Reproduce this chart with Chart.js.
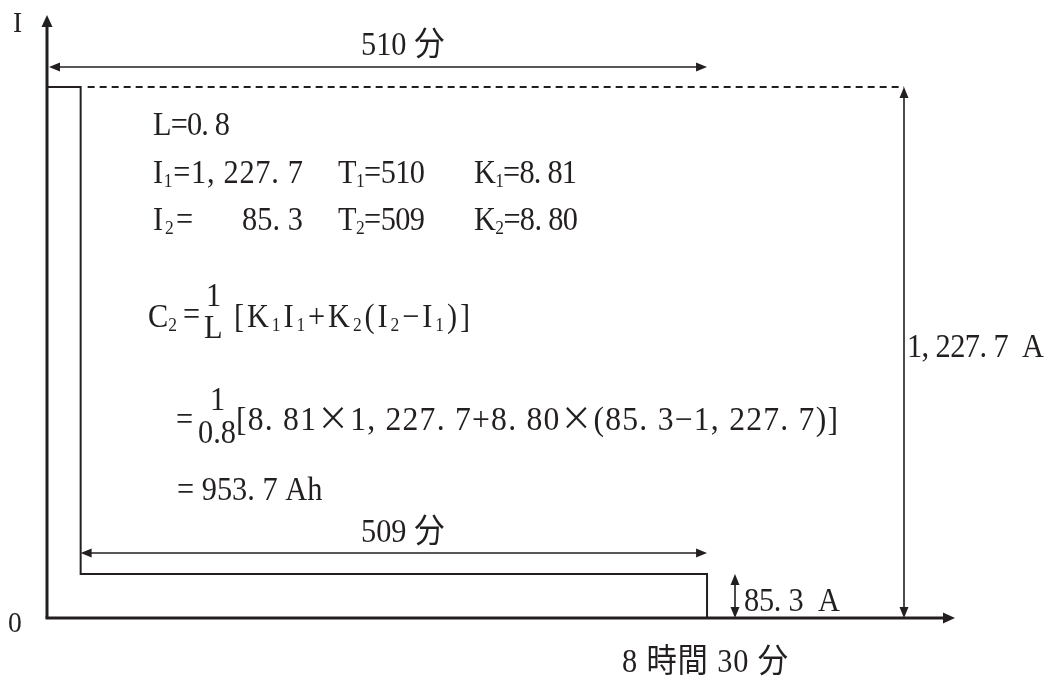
<!DOCTYPE html>
<html>
<head>
<meta charset="utf-8">
<script src="https://cdn.jsdelivr.net/npm/chart.js@4/dist/chart.umd.min.js"></script>
<style>
  html,body{margin:0;padding:0;background:#fff;}
  #wrap{width:1054px;height:678px;}
</style>
</head>
<body>
<div id="wrap"><canvas id="c" width="1054" height="678"></canvas></div>
<script>
// ---- data ----
const stepTimes   = [0, 26, 510];        // minutes, as drawn (first step is schematic)
const currents    = [1227.7, 85.3];       // I1, I2 (A)
const periods     = [510, 509];           // T1, T2 (min)
const kFactors    = [8.81, 8.80];         // K1, K2
const lossFactor  = [0.8];                // L
const capacity    = [953.7];              // C2 (Ah)
const axisLabels  = ['I', '0'];

const Y_MIN = -17.9, Y_MAX = 1396.6, X_MAX = 701.6;
const INK = '#231f20';

function jp(n, dec){
  const s = n.toLocaleString('en-US',{minimumFractionDigits:dec, maximumFractionDigits:dec});
  return s.replace(/,/g, ', ').replace('.', '. ');
}

function fontFor(size, c){
  if (c === '\u00d7') return size + 'px "Noto Sans CJK JP",sans-serif';
  return size + 'px "Liberation Serif","Noto Sans CJK JP",serif';
}
function parseRich(s){
  const out=[];
  for(let i=0;i<s.length;i++){
    if(s[i]==='_'){ out.push({c:s[i+1],sub:true}); i++; }
    else out.push({c:s[i],sub:false});
  }
  return out;
}
function drawRich(ctx, t){
  const size = t.size || 33, subSize = Math.round(size*0.58), sx = t.sx || 0.92;
  const chars = parseRich(t.text);
  const widths = chars.map(ch => { ctx.font = fontFor(ch.sub?subSize:size, ch.c); return ctx.measureText(ch.c).width; });
  const natural = widths.reduce((a,b)=>a+b,0)*sx;
  let extra = 0;
  if (t.w) extra = (t.w - natural)/Math.max(1, chars.length-1);
  let xx = t.x;
  chars.forEach((ch,i)=>{
    ctx.save();
    ctx.font = fontFor(ch.sub?subSize:size, ch.c);
    ctx.translate(xx, t.y + (ch.sub?4:0));
    ctx.scale(sx,1);
    ctx.fillStyle = INK;
    ctx.textBaseline = 'alphabetic';
    ctx.fillText(ch.c, 0, 0);
    ctx.restore();
    xx += widths[i]*sx + extra;
  });
}
function head(ctx, tx, ty, dx, dy, len, hw){
  const px = -dy, py = dx;
  ctx.beginPath();
  ctx.moveTo(tx, ty);
  ctx.lineTo(tx - dx*len + px*hw, ty - dy*len + py*hw);
  ctx.lineTo(tx - dx*len - px*hw, ty - dy*len - py*hw);
  ctx.closePath();
  ctx.fill();
}
function line(ctx, x1,y1,x2,y2,w,dash){
  ctx.save(); ctx.lineWidth=w; ctx.setLineDash(dash||[]);
  ctx.beginPath(); ctx.moveTo(x1,y1); ctx.lineTo(x2,y2); ctx.stroke(); ctx.restore();
}
function dimH(ctx, x1, x2, y){ line(ctx,x1+6,y,x2-6,y,1.6); head(ctx,x1,y,-1,0,11,4.5); head(ctx,x2,y,1,0,11,4.5); }
function dimV(ctx, x, y1, y2){ line(ctx,x,y1+6,x,y2-6,1.6); head(ctx,x,y1,0,-1,11,4.5); head(ctx,x,y2,0,1,11,4.5); }

const diagram = {
  id:'diagram',
  afterDatasetsDraw(chart){
    const {ctx, chartArea:a, scales:{x,y}} = chart;
    ctx.save();
    ctx.strokeStyle = INK; ctx.fillStyle = INK;
    const x0 = x.getPixelForValue(0), xs = x.getPixelForValue(stepTimes[1]), xe = x.getPixelForValue(stepTimes[2]);
    const yT = y.getPixelForValue(currents[0]), yL = y.getPixelForValue(currents[1]), yB = a.bottom;
    // axes
    line(ctx, x0, yB, x0, a.top+10, 3);
    head(ctx, x0, a.top, 0, -1, 12, 5.5);
    line(ctx, x0-1.5, yB, a.right-10, yB, 3);
    head(ctx, a.right, yB, 1, 0, 12, 5.5);
    // dimension arrows
    dimH(ctx, x0+2, xe, 67);
    dimH(ctx, xs, xe, 553);
    line(ctx, xs+7, yT, 904, yT, 2, [7,5]);
    dimV(ctx, 904, yT, yB);
    dimV(ctx, 735, yL, yB);
    // texts
    const h = Math.floor(periods[0]/60), m = periods[0]%60;
    const texts = [
      {text:axisLabels[0], x:13, y:32, size:30},
      {text:axisLabels[1], x:8, y:632, size:30},
      {text:periods[0]+' 分', x:361, y:55},
      {text:periods[1]+' 分', x:361, y:542},
      {text:'L='+jp(lossFactor[0],1), x:153, y:135, w:77},
      {text:'I_1='+jp(currents[0],1), x:153, y:183, w:150},
      {text:'T_1='+periods[0], x:338, y:183, w:87},
      {text:'K_1='+jp(kFactors[0],2), x:474, y:183, w:103},
      {text:'I_2=', x:153, y:230, w:40},
      {text:jp(currents[1],1), x:242, y:230, w:61},
      {text:'T_2='+periods[1], x:338, y:230, w:87},
      {text:'K_2='+jp(kFactors[1],2), x:474, y:230, w:104},
      {text:'C_2', x:148, y:327},
      {text:'=', x:183, y:325},
      {text:'1', x:206, y:306},
      {text:'L', x:204, y:338},
      {text:'[K_1I_1+K_2(I_2\u2212I_1)]', x:234, y:327, w:236},
      {text:'=', x:176, y:430},
      {text:'1', x:210, y:410},
      {text:'0.8', x:198, y:443},
      {text:'['+jp(kFactors[0],2)+'\u00d7'+jp(currents[0],1)+'+'+jp(kFactors[1],2)+'\u00d7('+jp(currents[1],1)+'\u2212'+jp(currents[0],1)+')]', x:236, y:430, w:602, sx:0.96},
      {text:'= '+jp(capacity[0],1)+' Ah', x:177, y:500},
      {text:jp(currents[0],1)+'  A', x:907, y:357, w:137},
      {text:jp(currents[1],1)+'  A', x:744, y:611, w:96},
      {text:h+' 時間 '+m+' 分', x:622, y:672, w:166},
    ];
    texts.forEach(t=>drawRich(ctx,t));
    ctx.restore();
  }
};

new Chart(document.getElementById('c'), {
  type:'line',
  data:{
    datasets:[{
      data:[
        {x:stepTimes[0], y:currents[0]},
        {x:stepTimes[1], y:currents[1]},
        {x:stepTimes[2], y:Y_MIN}
      ],
      stepped:true,
      borderColor:INK,
      borderWidth:2,
      pointRadius:0,
      fill:false
    }]
  },
  options:{
    responsive:false,
    devicePixelRatio:1,
    animation:false,
    layout:{padding:{left:47, right:99, top:15, bottom:60}},
    plugins:{legend:{display:false}, tooltip:{enabled:false}},
    scales:{
      x:{type:'linear', min:0, max:X_MAX, display:false},
      y:{type:'linear', min:Y_MIN, max:Y_MAX, display:false}
    }
  },
  plugins:[diagram]
});
</script>
</body>
</html>
